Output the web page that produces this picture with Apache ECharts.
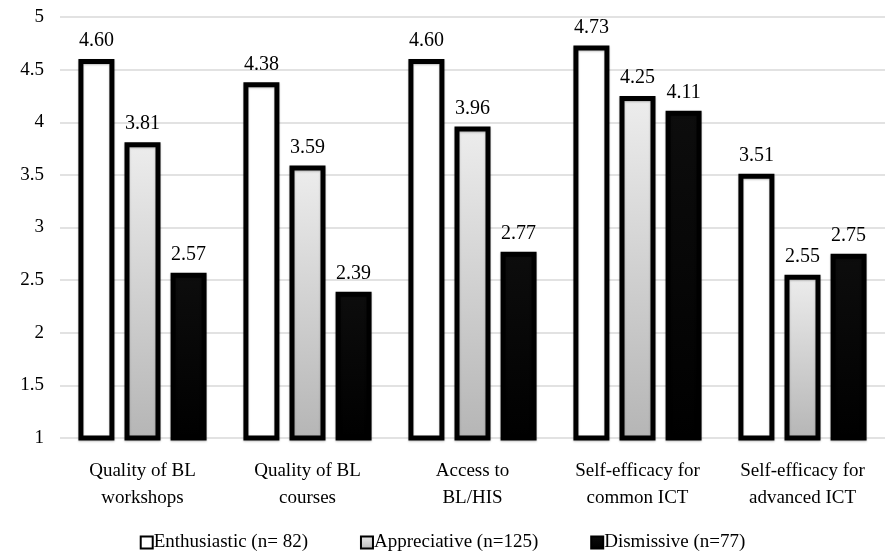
<!DOCTYPE html>
<html>
<head>
<meta charset="utf-8">
<script src="https://cdn.jsdelivr.net/npm/echarts@6/dist/echarts.min.js"></script>
<style>
  html, body { margin: 0; padding: 0; background: #fff; }
  #main { width: 885px; height: 559px; }
</style>
</head>
<body>
<div id="main"></div>
<script>
// categories and group means
var categories = [
  'Quality of BL\nworkshops',
  'Quality of BL\ncourses',
  'Access to\nBL/HIS',
  'Self-efficacy for\ncommon ICT',
  'Self-efficacy for\nadvanced ICT'
];
var enthusiastic = [4.60, 4.38, 4.60, 4.73, 3.51];
var appreciative = [3.81, 3.59, 3.96, 4.25, 2.55];
var dismissive = [2.57, 2.39, 2.77, 4.11, 2.75];
var seriesNames = ['Enthusiastic (n= 82)', 'Appreciative (n=125)', 'Dismissive (n=77)'];

var font = 'Times New Roman, Liberation Serif, serif';

function grad(top, bottom) {
  return new echarts.graphic.LinearGradient(0, 0, 0, 1, [
    { offset: 0, color: top },
    { offset: 1, color: bottom }
  ]);
}

var labelCfg = {
  show: true,
  position: 'top',
  distance: 8,
  color: '#000',
  fontFamily: font,
  fontSize: 20,
  formatter: function (p) { return p.value.toFixed(2); }
};

function makeSeries(name, data, fill) {
  return {
    name: name,
    type: 'bar',
    data: data,
    barWidth: 36,
    barGap: '28%',
    itemStyle: {
      color: fill,
      borderColor: '#000',
      borderWidth: 5,
      shadowColor: 'rgba(0,0,0,0.25)',
      shadowBlur: 2,
      shadowOffsetY: 1
    },
    label: labelCfg
  };
}

var chart = echarts.init(document.getElementById('main'));
chart.setOption({
  animation: false,
  textStyle: { fontFamily: font },
  grid: { left: 60, right: 0, top: 17, bottom: 121 },
  legend: {
    bottom: 2,
    left: 'center',
    icon: 'rect',
    itemWidth: 12,
    itemHeight: 12,
    itemGap: 52,
    textStyle: { fontFamily: font, fontSize: 19, color: '#000', padding: [0, 0, 0, -4] },
    data: seriesNames
  },
  xAxis: {
    type: 'category',
    data: categories,
    axisLine: { show: false },
    axisTick: { show: false },
    axisLabel: {
      color: '#000',
      fontFamily: font,
      fontSize: 19,
      lineHeight: 27,
      margin: 20,
      interval: 0
    }
  },
  yAxis: {
    type: 'value',
    min: 1,
    max: 5,
    interval: 0.5,
    axisLine: { show: false },
    axisTick: { show: false },
    splitLine: { lineStyle: { color: '#d9d9d9', width: 1.5 } },
    axisLabel: {
      color: '#000',
      fontFamily: font,
      fontSize: 19,
      margin: 16
    }
  },
  series: [
    makeSeries(seriesNames[0], enthusiastic, '#ffffff'),
    makeSeries(seriesNames[1], appreciative, grad('#ededed', '#b5b5b5')),
    makeSeries(seriesNames[2], dismissive, grad('#0d0d0d', '#000000'))
  ]
});
</script>
</body>
</html>
